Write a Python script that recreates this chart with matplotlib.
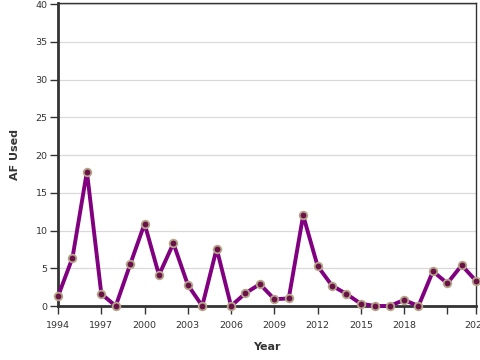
import matplotlib
matplotlib.use("Agg")
import matplotlib.pyplot as plt

# data
years = list(range(1994, 2024))
af_used = [1.3, 6.4, 17.8, 1.6, 0.0, 5.5, 10.9, 4.1, 8.3, 2.8,
           0.0, 7.6, 0.0, 1.7, 2.9, 0.9, 1.0, 12.0, 5.3, 2.7,
           1.6, 0.3, 0.0, 0.0, 0.8, 0.0, 4.6, 3.0, 5.4, 3.3]
xticks = [1994, 1997, 2000, 2003, 2006, 2009, 2012, 2015, 2018, 2021, 2023]
xticklabels = ['1994', '1997', '2000', '2003', '2006', '2009', '2012',
               '2015', '2018', '', '2023']
yticks = [0, 5, 10, 15, 20, 25, 30, 35, 40]

fig = plt.figure(figsize=(4.8, 3.6), dpi=100)
ax = fig.add_axes([0.121, 0.15, 0.871, 0.842])

ax.plot(years, af_used, color='#800080', lw=2.8, marker='o', ms=5.5,
        mfc='#6a1248', mec='#b5a58a', mew=1.3, clip_on=False, zorder=3)

ax.set_xlim(1994, 2023)
ax.set_ylim(0, 40.15)
ax.set_xticks(xticks)
ax.set_xticklabels(xticklabels)
ax.set_yticks(yticks)
ax.grid(axis='y', color='#d9d9d9', lw=0.9)
ax.set_axisbelow(True)

for s in ['top', 'right']:
    ax.spines[s].set_linewidth(1.0)
    ax.spines[s].set_color('#333333')
for s in ['left', 'bottom']:
    ax.spines[s].set_linewidth(2.0)
    ax.spines[s].set_color('#333333')

ax.tick_params(labelsize=6.8, colors='#333333', length=5.5, width=1.0)
ax.tick_params(axis='x', pad=5)
ax.tick_params(axis='y', pad=2)
ax.set_xlabel('Year', fontsize=8, fontweight='bold', color='#333333')
ax.set_ylabel('AF Used', fontsize=8, fontweight='bold', color='#333333')
ax.xaxis.set_label_coords(0.5, -0.12)
ax.yaxis.set_label_coords(-0.09, 0.5)

fig.savefig('out.png', dpi=100)
